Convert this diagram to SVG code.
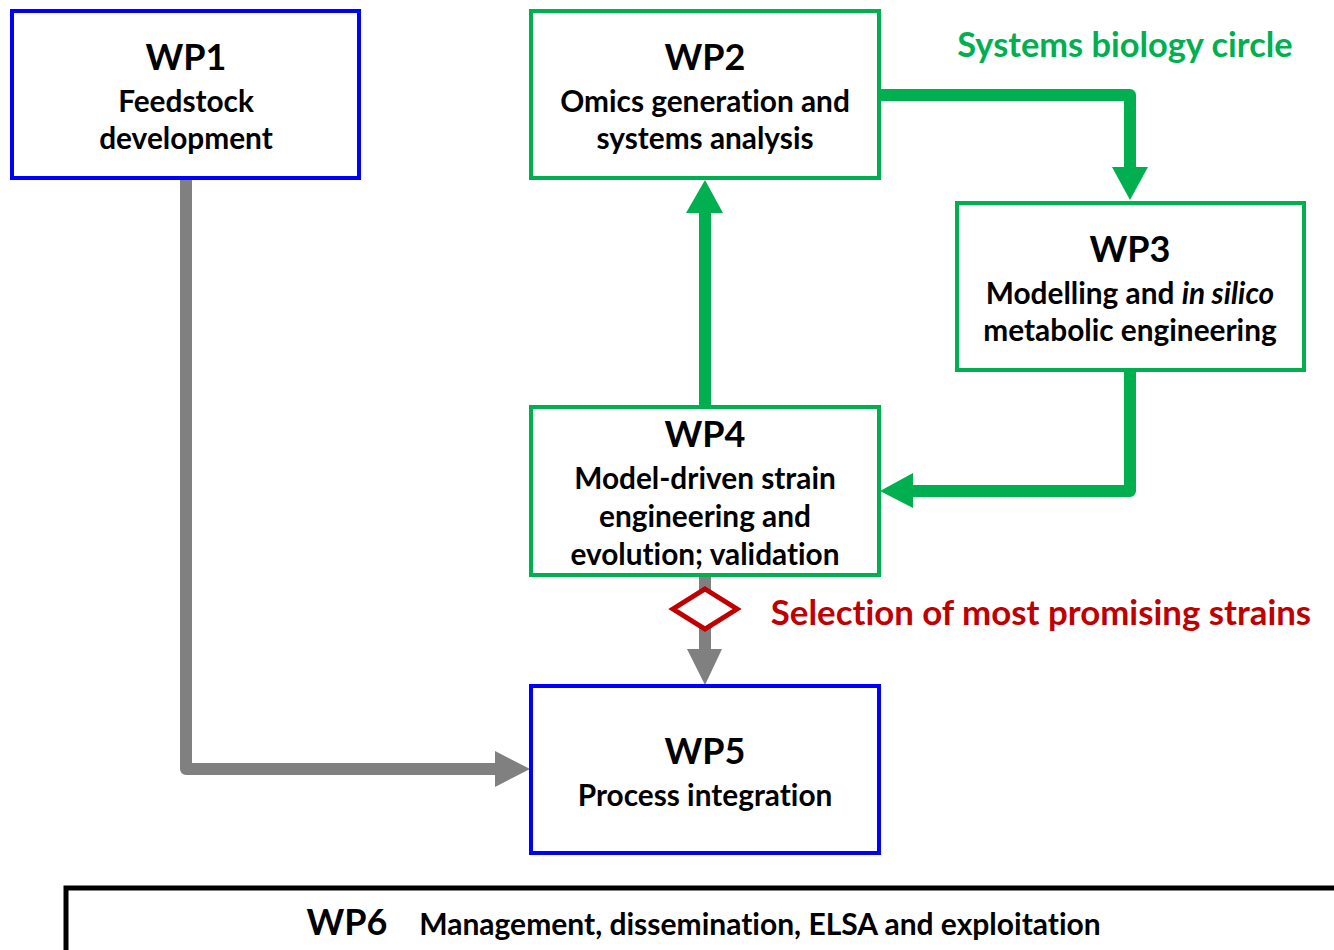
<svg xmlns="http://www.w3.org/2000/svg" width="1334" height="950" viewBox="0 0 1334 950">
<style>
.box{fill:#fff;stroke-width:4}
.blue{stroke:#0000FF}
.green{stroke:#00B050}
.t{font-family:Lato,"Open Sans",sans-serif;font-weight:bold;fill:#000;text-anchor:middle;font-variant-ligatures:none}
.h{font-size:36px}
.b{font-size:29.8px}
.gl{fill:none;stroke:#00B050;stroke-width:12;stroke-linejoin:round}
.gr{fill:none;stroke:#808080;stroke-width:12;stroke-linejoin:round}
</style>
<rect width="1334" height="950" fill="#fff"/>
<g id="connectors">
<path class="gl" d="M879 95 H1130 V170"/>
<polygon points="1112,167 1148,167 1130,200" fill="#00B050"/>
<path class="gl" d="M1130 370 V491 H910"/>
<polygon points="913,473 913,508 880,491" fill="#00B050"/>
<path class="gl" d="M705 407 V210"/>
<polygon points="686,213 723,213 705,180" fill="#00B050"/>
<path class="gr" d="M186 178 V769 H498"/>
<polygon points="495,751 495,787 530,769" fill="#808080"/>
<path class="gr" d="M705 577 V652"/>
<polygon points="687,649 722,649 705,685" fill="#808080"/>
</g>
<g id="decision">
<polygon points="705,589 737,609 705,629 673,609" fill="#fff" stroke="#C00000" stroke-width="5"/>
</g>
<g id="wp1">
<rect class="box blue" x="12" y="11" width="347" height="167"/>
<text class="t h" x="186" y="70">WP1</text>
<text class="t b" x="186" y="112">Feedstock</text>
<text class="t b" x="186" y="149">development</text>
</g>
<g id="wp2">
<rect class="box green" x="531" y="11" width="348" height="167"/>
<text class="t h" x="705" y="70">WP2</text>
<text class="t b" x="705" y="112">Omics generation and</text>
<text class="t b" x="705" y="149">systems analysis</text>
</g>
<g id="wp3">
<rect class="box green" x="957" y="203" width="347" height="167"/>
<text class="t h" x="1130" y="262">WP3</text>
<text class="t b" x="1130" y="304">Modelling and <tspan font-style="italic">in silico</tspan></text>
<text class="t b" x="1130" y="341">metabolic engineering</text>
</g>
<g id="wp4">
<rect class="box green" x="531" y="407" width="348" height="168"/>
<text class="t h" x="705" y="447">WP4</text>
<text class="t b" x="705" y="489">Model-driven strain</text>
<text class="t b" x="705" y="527">engineering and</text>
<text class="t b" x="705" y="565">evolution; validation</text>
</g>
<g id="wp5">
<rect class="box blue" x="531" y="686" width="348" height="167"/>
<text class="t h" x="705" y="764">WP5</text>
<text class="t b" x="705" y="806">Process integration</text>
</g>
<g id="wp6">
<rect x="66" y="888" width="1290" height="80" fill="#fff" stroke="#000" stroke-width="5"/>
<text class="t h" x="347" y="935">WP6</text>
<text class="t" x="760" y="935" style="font-size:30px">Management, dissemination, ELSA and exploitation</text>
</g>
<g id="labels">
<text class="t" x="1125" y="57" style="font-size:34.4px;fill:#00B050">Systems biology circle</text>
<text class="t" x="1041" y="625" style="font-size:34.8px;fill:#C00000">Selection of most promising strains</text>
</g>
</svg>
